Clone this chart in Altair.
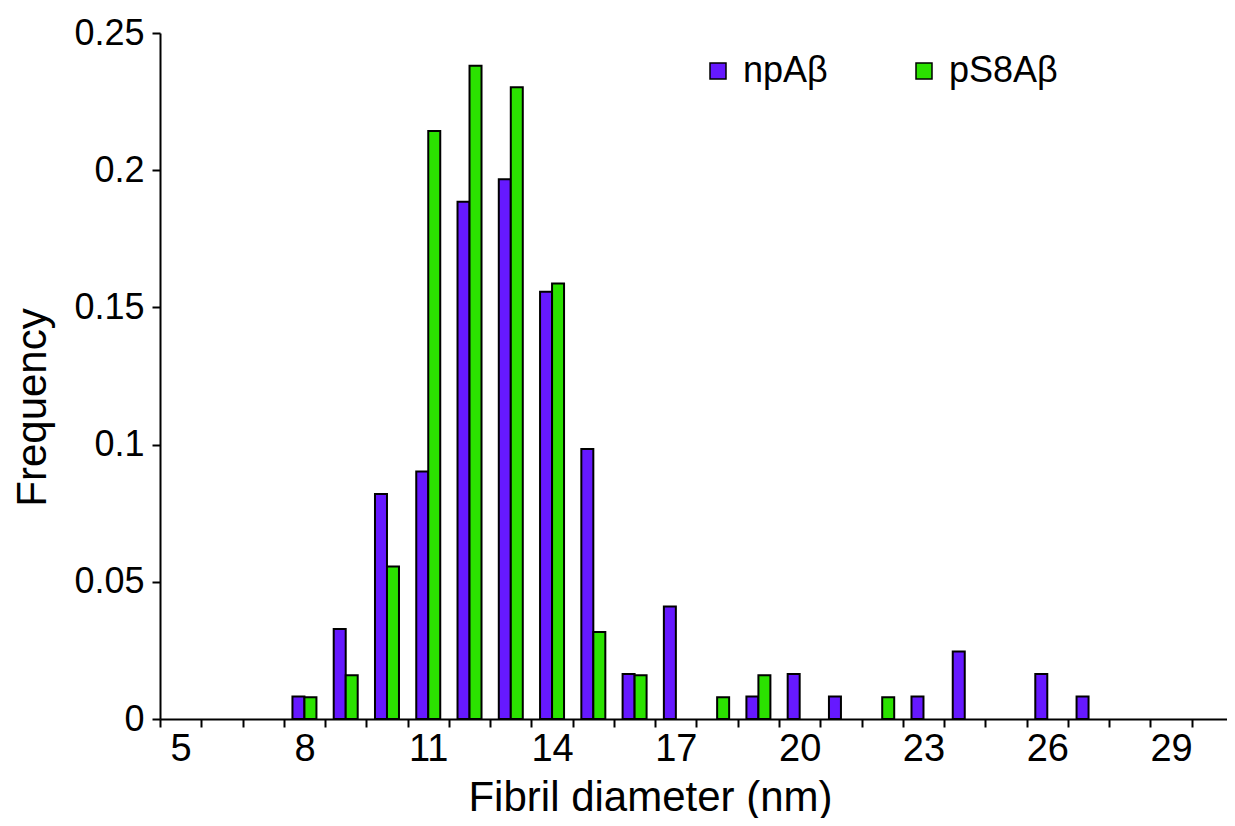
import altair as alt
import pandas as pd

diameters = list(range(5, 31))
series_names = ["npAβ", "pS8Aβ"]

np_diam = [8, 9, 10, 11, 12, 13, 14, 15, 16, 17, 19, 20, 21, 23, 24, 26, 27]
np_freq = [0.0082, 0.0328, 0.082, 0.0902, 0.1885, 0.1967, 0.1557, 0.0984,
           0.0164, 0.041, 0.0082, 0.0164, 0.0082, 0.0082, 0.0246, 0.0164, 0.0082]

ps_diam = [8, 9, 10, 11, 12, 13, 14, 15, 16, 18, 19, 22]
ps_freq = [0.0079, 0.0159, 0.0556, 0.2143, 0.2381, 0.2302, 0.1587, 0.0317,
           0.0159, 0.0079, 0.0159, 0.0079]

y_ticks = [0, 0.05, 0.1, 0.15, 0.2, 0.25]

rows = []
for d, f in zip(np_diam, np_freq):
    rows.append({"d": d, "freq": f, "series": series_names[0]})
for d, f in zip(ps_diam, ps_freq):
    rows.append({"d": d, "freq": f, "series": series_names[1]})
df = pd.DataFrame(rows)

FONT = "Liberation Sans"

chart = alt.Chart(df).mark_bar(stroke="black", strokeWidth=2).encode(
    x=alt.X(
        "d:O",
        scale=alt.Scale(domain=diameters, paddingInner=0, paddingOuter=0),
        axis=alt.Axis(
            title="Fibril diameter (nm)",
            labelAngle=0,
            tickBand="extent",
            labelExpr="(datum.value - 5) % 3 == 0 ? datum.label : ''",
            labelFontSize=38,
            labelPadding=3,
            titleFontSize=42,
            titleX=490,
            titleY=91,
            titleBaseline="alphabetic",
            titleAlign="center",
        ),
    ),
    xOffset=alt.XOffset(
        "series:N",
        scale=alt.Scale(domain=series_names, paddingInner=0, paddingOuter=0.72),
    ),
    y=alt.Y(
        "freq:Q",
        scale=alt.Scale(domain=[0, 0.25], nice=False),
        axis=alt.Axis(
            title="Frequency",
            values=y_ticks,
            format=".2~f",
            labelFontSize=36,
            labelPadding=8,
            titleFontSize=42,
            titleAngle=270,
            titleX=-106,
            titleY=374,
            titleAlign="center",
            titleBaseline="bottom",
        ),
    ),
    color=alt.Color(
        "series:N",
        scale=alt.Scale(domain=series_names, range=["#6619FF", "#2BE200"]),
        legend=alt.Legend(
            title=None,
            orient="none",
            legendX=540,
            legendY=20,
            direction="horizontal",
            columns=2,
            symbolType="square",
            symbolSize=256,
            symbolStrokeColor="black",
            symbolStrokeWidth=1.5,
            symbolOpacity=1,
            labelFontSize=36,
            labelOffset=7,
            columnPadding=78,
        ),
    ),
).properties(
    width=1073,
    height=686,
    autosize=alt.AutoSizeParams(type="none"),
    padding={"left": 152, "top": 25, "right": -6, "bottom": 99},
).configure_view(
    stroke=None
).configure_axis(
    grid=False,
    domainColor="black",
    domainWidth=2,
    tickColor="black",
    tickWidth=2,
    tickSize=8,
    labelColor="black",
    titleColor="black",
    titleFontWeight="normal",
    labelFont=FONT,
    titleFont=FONT,
).configure_legend(
    labelFont=FONT,
    labelColor="black",
)

chart.save("out.html", embed_options={"renderer": "svg", "actions": False})
